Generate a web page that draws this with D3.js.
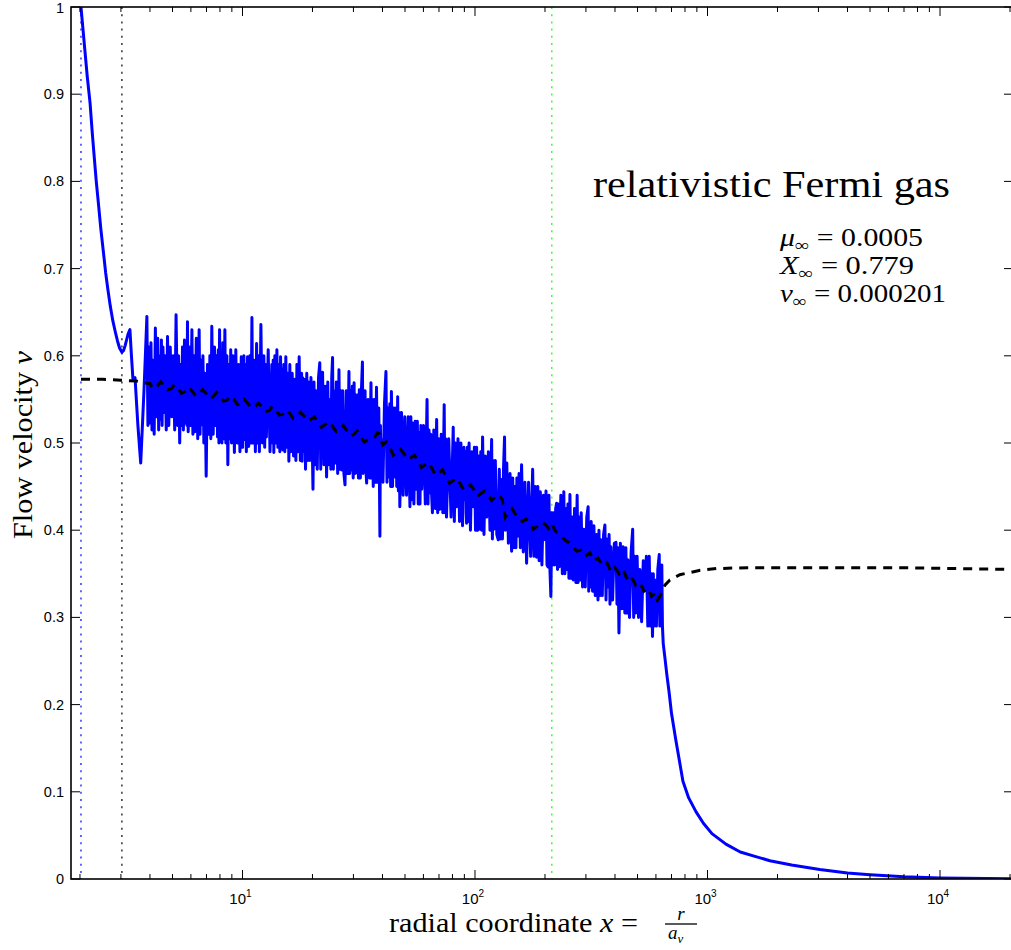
<!DOCTYPE html>
<html>
<head>
<meta charset="utf-8">
<script src="https://cdn.jsdelivr.net/npm/d3@7"></script>
<style>
  body { margin: 0; background: #fff; }
  text { fill: #000; }
</style>
</head>
<body>
<div id="chart"></div>
<script>
// blue solid: flow velocity v at radial coordinate x
const bluePoints = [
  [2.02, 1.0], [2.06, 0.975], [2.10, 0.95], [2.15, 0.92], [2.21, 0.89], [2.26, 0.855],
  [2.30, 0.83], [2.35, 0.80], [2.40, 0.775], [2.46, 0.745], [2.52, 0.72], [2.58, 0.695],
  [2.64, 0.675], [2.70, 0.657], [2.77, 0.64], [2.84, 0.627], [2.90, 0.617], [2.96, 0.609],
  [3.03, 0.604], [3.08, 0.606], [3.13, 0.612], [3.22, 0.625], [3.28, 0.630], [3.33, 0.600],
  [3.38, 0.573], [3.45, 0.575], [3.55, 0.520], [3.65, 0.477], [3.77, 0.560], [3.88, 0.645],
  [3.92, 0.52], [3.96, 0.61], [4.00, 0.523], [4.04, 0.615], [4.08, 0.515], [4.12, 0.595],
  [4.17, 0.51], [4.22, 0.632], [4.27, 0.53], [4.32, 0.62], [4.36, 0.515], [4.41, 0.60],
  [4.44, 0.527], [4.48, 0.618], [4.51, 0.52], [4.55, 0.61], [4.60, 0.535], [4.64, 0.60],
  [4.70, 0.515], [4.76, 0.622], [4.82, 0.52], [4.89, 0.61], [4.96, 0.53], [5.04, 0.60],
  [5.11, 0.515], [5.18, 0.647], [5.26, 0.52], [5.31, 0.60], [5.37, 0.50], [5.42, 0.59],
  [5.47, 0.52], [5.52, 0.61], [5.57, 0.515], [5.63, 0.618], [5.68, 0.523], [5.74, 0.60],
  [5.77, 0.52], [5.80, 0.639], [5.84, 0.513], [5.91, 0.61], [5.98, 0.52], [6.06, 0.630],
  [6.12, 0.51], [6.18, 0.60], [6.24, 0.513], [6.33, 0.62], [6.42, 0.505], [6.51, 0.630],
  [6.57, 0.51], [6.63, 0.595], [6.69, 0.521], [6.76, 0.60], [6.82, 0.50], [6.89, 0.58],
  [6.98, 0.462], [7.07, 0.59], [7.17, 0.51], [7.24, 0.60], [7.31, 0.505], [7.38, 0.634],
  [7.48, 0.51], [7.58, 0.61], [7.68, 0.52], [7.74, 0.60], [7.81, 0.507], [7.87, 0.607],
  [7.92, 0.50], [7.97, 0.63], [8.03, 0.51], [8.10, 0.60], [8.16, 0.50], [8.23, 0.615],
  [8.31, 0.505], [8.40, 0.630], [8.48, 0.50], [8.57, 0.60], [8.65, 0.475], [8.74, 0.59],
  [8.82, 0.505], [8.90, 0.607], [8.97, 0.50], [9.10, 0.60], [9.23, 0.489], [9.36, 0.607],
  [9.49, 0.50], [9.62, 0.59], [9.75, 0.49], [9.88, 0.599], [10.01, 0.495], [10.14, 0.60],
  [10.22, 0.504], [10.30, 0.59], [10.39, 0.49], [10.51, 0.599], [10.63, 0.496], [10.76, 0.60],
  [10.87, 0.50], [10.98, 0.644], [11.09, 0.50], [11.22, 0.595], [11.36, 0.49], [11.5, 0.614],
  [11.6, 0.50], [11.71, 0.60], [11.82, 0.49], [12.0, 0.636], [12.18, 0.50], [12.36, 0.60],
  [12.46, 0.495], [12.57, 0.59], [12.67, 0.507], [12.9, 0.607], [13.13, 0.49], [13.37, 0.59],
  [13.46, 0.50], [13.55, 0.595], [13.64, 0.489], [13.78, 0.60], [13.92, 0.50], [14.06, 0.607],
  [14.2, 0.495], [14.34, 0.59], [14.48, 0.49], [14.58, 0.599], [14.67, 0.50], [14.77, 0.585],
  [14.92, 0.492], [15.06, 0.59], [15.21, 0.49], [15.36, 0.599], [15.52, 0.495], [15.67, 0.58],
  [15.83, 0.479], [15.98, 0.59], [16.14, 0.49], [16.36, 0.58], [16.58, 0.485], [16.8, 0.573],
  [16.97, 0.48], [17.14, 0.59], [17.31, 0.49], [17.53, 0.599], [17.74, 0.48], [17.96, 0.58],
  [18.04, 0.479], [18.12, 0.575], [18.2, 0.49], [18.43, 0.573], [18.67, 0.47], [18.9, 0.58],
  [19.1, 0.48], [19.3, 0.57], [19.49, 0.48], [19.7, 0.575], [19.9, 0.52], [20.1, 0.447],
  [20.3, 0.57], [20.5, 0.475], [20.7, 0.56], [20.97, 0.47], [21.23, 0.575], [21.5, 0.592],
  [21.7, 0.47], [21.9, 0.57], [22.1, 0.581], [22.4, 0.475], [22.7, 0.565], [23.0, 0.461],
  [23.27, 0.57], [23.53, 0.475], [23.8, 0.55], [24.0, 0.47], [24.2, 0.575], [24.4, 0.598],
  [24.6, 0.47], [24.8, 0.56], [25.0, 0.477], [25.33, 0.57], [25.67, 0.465], [26.0, 0.584],
  [26.23, 0.47], [26.47, 0.56], [26.7, 0.469], [27.0, 0.56], [27.3, 0.465], [27.6, 0.452],
  [27.97, 0.56], [28.33, 0.465], [28.7, 0.582], [28.93, 0.465], [29.17, 0.56], [29.4, 0.469],
  [29.67, 0.565], [29.93, 0.46], [30.2, 0.569], [30.47, 0.465], [30.73, 0.555], [31.0, 0.466],
  [31.27, 0.555], [31.53, 0.46], [31.8, 0.561], [32.13, 0.46], [32.47, 0.56], [32.8, 0.593],
  [33.0, 0.465], [33.2, 0.55], [33.4, 0.492], [33.67, 0.56], [33.93, 0.47], [34.2, 0.454],
  [34.7, 0.55], [35.2, 0.46], [35.7, 0.569], [35.97, 0.46], [36.23, 0.55], [36.5, 0.450],
  [36.9, 0.55], [37.3, 0.455], [37.7, 0.564], [38.13, 0.455], [38.57, 0.54], [39.0, 0.393],
  [39.2, 0.52], [39.4, 0.46], [39.6, 0.504], [40.2, 0.455], [40.8, 0.545], [41.4, 0.582],
  [41.83, 0.455], [42.27, 0.54], [42.7, 0.461], [43.03, 0.545], [43.37, 0.45], [43.7, 0.559],
  [44.2, 0.45], [44.7, 0.54], [45.2, 0.461], [45.63, 0.54], [46.07, 0.45], [46.5, 0.553],
  [46.83, 0.445], [47.17, 0.535], [47.5, 0.427], [48.3, 0.535], [49.1, 0.44], [49.9, 0.530],
  [50.77, 0.44], [51.63, 0.53], [52.5, 0.427], [52.97, 0.53], [53.43, 0.435], [53.9, 0.523],
  [54.6, 0.43], [55.3, 0.525], [56.0, 0.447], [56.5, 0.525], [57.0, 0.43], [57.5, 0.512],
  [58.0, 0.43], [58.5, 0.52], [59.0, 0.447], [60.07, 0.52], [61.13, 0.43], [62.2, 0.550],
  [62.8, 0.43], [63.4, 0.515], [64.0, 0.443], [64.5, 0.51], [65.1, 0.44], [65.6, 0.420],
  [66.5, 0.515], [67.5, 0.425], [68.4, 0.527], [69.1, 0.42], [69.9, 0.505], [70.6, 0.424],
  [71.6, 0.51], [72.7, 0.42], [73.7, 0.544], [74.3, 0.42], [74.8, 0.505], [75.4, 0.415],
  [77.1, 0.505], [78.9, 0.415], [80.6, 0.518], [81.5, 0.41], [82.4, 0.50], [83.3, 0.427],
  [84.5, 0.505], [85.8, 0.41], [87.0, 0.500], [88.4, 0.405], [89.7, 0.495], [91.1, 0.435],
  [91.4, 0.49], [91.7, 0.42], [92.0, 0.408], [92.8, 0.495], [93.5, 0.41], [94.3, 0.500],
  [95.6, 0.40], [97.0, 0.49], [98.3, 0.427], [99.4, 0.495], [100.5, 0.40], [101.6, 0.495],
  [102.7, 0.40], [103.9, 0.485], [105, 0.401], [105.9, 0.49], [106.9, 0.40], [107.8, 0.507],
  [109.3, 0.395], [110.8, 0.485], [112.3, 0.415], [114.2, 0.49], [116.0, 0.40], [117.9, 0.504],
  [118.8, 0.39], [119.6, 0.48], [120.5, 0.401], [122.3, 0.48], [124.1, 0.395], [125.9, 0.389],
  [127.2, 0.47], [128.5, 0.39], [129.8, 0.458], [131.2, 0.39], [132.6, 0.47], [134, 0.507],
  [135, 0.40], [136, 0.47], [137, 0.477], [139.2, 0.385], [141.5, 0.465], [143.7, 0.376],
  [145.3, 0.46], [147, 0.38], [148.6, 0.450], [150, 0.38], [151.4, 0.46], [152.8, 0.393],
  [154.7, 0.465], [156.7, 0.38], [158.6, 0.475], [161.3, 0.375], [164, 0.455], [166.7, 0.362],
  [170, 0.455], [173.5, 0.37], [177, 0.470], [179.3, 0.37], [181.7, 0.45], [184, 0.369],
  [186.3, 0.45], [188.7, 0.365], [191, 0.444], [194, 0.36], [197, 0.44], [200, 0.389],
  [202, 0.445], [204, 0.36], [206, 0.358], [208, 0.44], [210, 0.355], [212, 0.324],
  [214, 0.42], [216, 0.36], [218, 0.420], [220.1, 0.36], [222.3, 0.425], [224.4, 0.431],
  [226.5, 0.355], [228.5, 0.43], [230.6, 0.358], [234, 0.44], [237.5, 0.35], [241, 0.444],
  [243.5, 0.35], [246, 0.425], [248.5, 0.355], [251, 0.43], [253.5, 0.345], [256, 0.441],
  [258.8, 0.345], [261.7, 0.415], [264.5, 0.343], [268, 0.425], [271.5, 0.34], [275, 0.440],
  [277.5, 0.34], [280, 0.415], [282.5, 0.343], [286.3, 0.42], [290.2, 0.335], [294, 0.401],
  [298, 0.335], [302.4, 0.415], [306.6, 0.427], [308.4, 0.33], [310.2, 0.405], [312, 0.335],
  [316, 0.41], [320.4, 0.33], [324.6, 0.405], [329, 0.325], [333.5, 0.395], [338, 0.320],
  [341.3, 0.40], [344.7, 0.325], [348, 0.389], [352.7, 0.325], [357.3, 0.395], [362, 0.406],
  [366, 0.32], [370, 0.39], [374, 0.335], [377.3, 0.395], [380.7, 0.315], [384, 0.381],
  [390.7, 0.32], [397.3, 0.385], [404, 0.386], [408, 0.315], [412, 0.38], [416, 0.282],
  [422, 0.385], [427.8, 0.31], [433.5, 0.381], [436, 0.31], [438.5, 0.375], [441, 0.305],
  [445.5, 0.38], [450, 0.305], [454.5, 0.366], [461.9, 0.30], [469.3, 0.375], [476.6, 0.401],
  [481.4, 0.30], [486.2, 0.37], [491, 0.305], [498, 0.37], [505, 0.30], [512, 0.355],
  [520.7, 0.295], [529.3, 0.365], [538, 0.332], [545.8, 0.37], [553.7, 0.29], [561.5, 0.370],
  [567.7, 0.29], [573.8, 0.35], [580, 0.278], [584.7, 0.35], [589.3, 0.29], [594, 0.343],
  [602.7, 0.29], [611.3, 0.355], [620, 0.372], [623.7, 0.29], [627.3, 0.355], [631, 0.320],
  [636, 0.36], [640, 0.29], [645, 0.27],
  [655, 0.255], [668, 0.235], [683, 0.215], [700, 0.19], [730, 0.16], [760, 0.133],
  [784, 0.112], [830, 0.093], [893, 0.077], [960, 0.064], [1045, 0.052], [1200, 0.040],
  [1383, 0.031], [1600, 0.026], [1854, 0.021], [2300, 0.016], [3040, 0.011], [4000, 0.007],
  [5000, 0.005], [7000, 0.0025], [10000, 0.0012], [20600, 0.0003]
];

// black dashed reference profile
const blackPoints = [
  [2.02, 0.573], [2.5, 0.573], [3.0, 0.572], [3.5, 0.571],
  [4.0, 0.568], [4.14, 0.562], [4.29, 0.565], [4.45, 0.570], [4.61, 0.566], [4.77, 0.561],
  [4.93, 0.562], [5.1, 0.567], [5.28, 0.563], [5.46, 0.557], [5.65, 0.559], [5.85, 0.564],
  [6.06, 0.560], [6.28, 0.554], [6.5, 0.556], [6.73, 0.561], [6.96, 0.557], [7.2, 0.551],
  [7.46, 0.553], [7.73, 0.558], [8.0, 0.554], [8.29, 0.548], [8.58, 0.549], [8.88, 0.554],
  [9.19, 0.550], [9.52, 0.544], [9.85, 0.545], [10.17, 0.550], [10.5, 0.546], [10.9, 0.540],
  [11.3, 0.541], [11.7, 0.546], [12.1, 0.542], [12.55, 0.536], [13.0, 0.537], [13.45, 0.542],
  [13.9, 0.538], [14.4, 0.532], [14.9, 0.533], [15.45, 0.538], [16.0, 0.534], [16.55, 0.528],
  [17.1, 0.530], [17.75, 0.535], [18.4, 0.531], [19.05, 0.525], [19.7, 0.527], [20.4, 0.530],
  [21.1, 0.524], [21.85, 0.518], [22.6, 0.521], [23.5, 0.525], [24.4, 0.519], [25.3, 0.513],
  [26.2, 0.516], [27.15, 0.520], [28.1, 0.514], [29.1, 0.508], [30.1, 0.510], [31.15, 0.514],
  [32.2, 0.507], [33.4, 0.501], [34.6, 0.504], [35.85, 0.506], [37.1, 0.507], [38.0, 0.512],
  [39.0, 0.510], [39.5, 0.503], [40.1, 0.498], [41.5, 0.501], [43.0, 0.495], [44.5, 0.486],
  [46.1, 0.490], [47.7, 0.493], [49.4, 0.488], [51.2, 0.481], [53.0, 0.483], [54.9, 0.486],
  [56.8, 0.480], [58.8, 0.472], [60.9, 0.475], [63.1, 0.478], [65.3, 0.471], [67.6, 0.463],
  [70.0, 0.466], [72.5, 0.469], [75.0, 0.462], [77.7, 0.454], [80.4, 0.457], [83.3, 0.460],
  [86.2, 0.454], [89.3, 0.446], [92.4, 0.449], [95.7, 0.452], [99.1, 0.446], [102.5, 0.439],
  [106, 0.442], [110, 0.445], [114, 0.440], [118, 0.434], [122, 0.438], [126.5, 0.441],
  [131, 0.435], [133, 0.425], [135, 0.415], [139.5, 0.421], [144, 0.425], [148.5, 0.419],
  [153, 0.416], [156.5, 0.411], [160, 0.410], [166, 0.413], [172, 0.407], [178, 0.401],
  [184, 0.404], [192, 0.409], [200, 0.407], [207, 0.402], [214, 0.408], [219.5, 0.401],
  [225, 0.397], [234, 0.394], [243, 0.389], [253, 0.386], [263, 0.381], [274, 0.376],
  [285, 0.377], [298, 0.370], [312, 0.374], [325, 0.365], [338, 0.368], [353, 0.360],
  [369, 0.363], [384, 0.352], [400, 0.357], [417, 0.350], [434, 0.355], [452, 0.343],
  [470, 0.347], [491, 0.337], [512, 0.340], [533, 0.330], [555, 0.333], [574, 0.324],
  [594, 0.328], [609, 0.320], [624, 0.324],
  [656, 0.337], [689, 0.343], [760, 0.349], [930, 0.354], [1095, 0.356], [1478, 0.357],
  [2496, 0.357], [6725, 0.357], [20600, 0.355]
];

// vertical dotted markers
const markerX = [2.02, 3.03, 214];
const markerColors = ["#0000ff", "#000000", "#00ff00"];

const yTicks = [0, 0.1, 0.2, 0.3, 0.4, 0.5, 0.6, 0.7, 0.8, 0.9, 1];
const xMajor = [10, 100, 1000, 10000];
const xDomain = [1.83, 20600];

const W = 1011, H = 950;
// right edge of the axes box sits just past the picture edge
const box = { left: 71, right: 1013, top: 7, bottom: 879 };
const serif = "'Liberation Serif', 'Times New Roman', serif";
const sans = "'Liberation Sans', Arial, Helvetica, sans-serif";

const svg = d3.select("#chart").append("svg")
  .attr("width", W).attr("height", H)
  .style("display", "block");

const x = d3.scaleLog().domain(xDomain).range([box.left, box.right]);
const y = d3.scaleLinear().domain([0, 1]).range([box.bottom, box.top]);

svg.append("clipPath").attr("id", "clip")
  .append("rect")
  .attr("x", box.left).attr("y", box.top)
  .attr("width", box.right - box.left).attr("height", box.bottom - box.top);

const plotG = svg.append("g").attr("clip-path", "url(#clip)");

// dotted vertical markers
plotG.selectAll("line.marker")
  .data(markerX)
  .join("line")
  .attr("class", "marker")
  .attr("x1", (d) => x(d)).attr("x2", (d) => x(d))
  .attr("y1", box.top).attr("y2", box.bottom)
  .attr("stroke", (d, i) => markerColors[i])
  .attr("stroke-width", 1.2)
  .attr("stroke-dasharray", "2,5.2");

const line = d3.line()
  .x((d) => x(d[0]))
  .y((d) => y(d[1]));

plotG.append("path")
  .datum(bluePoints)
  .attr("d", line)
  .attr("fill", "none")
  .attr("stroke", "#0000ff")
  .attr("stroke-width", 3)
  .attr("stroke-linejoin", "round");

plotG.append("path")
  .datum(blackPoints)
  .attr("d", line)
  .attr("fill", "none")
  .attr("stroke", "#000")
  .attr("stroke-width", 3)
  .attr("stroke-dasharray", "9,7");

// axes box
const axG = svg.append("g");
axG.append("rect")
  .attr("x", box.left).attr("y", box.top)
  .attr("width", box.right - box.left).attr("height", box.bottom - box.top)
  .attr("fill", "none").attr("stroke", "#000").attr("stroke-width", 1.6);

// x ticks (inward, top and bottom)
const xTicks = x.ticks().filter((d) => d >= xDomain[0] && d <= xDomain[1]);
const isMajor = (d) => xMajor.includes(d);
xTicks.forEach(function (d) {
  const len = isMajor(d) ? 9 : 5;
  axG.append("line")
    .attr("x1", x(d)).attr("x2", x(d))
    .attr("y1", box.bottom).attr("y2", box.bottom - len)
    .attr("stroke", "#000").attr("stroke-width", 1);
  axG.append("line")
    .attr("x1", x(d)).attr("x2", x(d))
    .attr("y1", box.top).attr("y2", box.top + len)
    .attr("stroke", "#000").attr("stroke-width", 1);
});

// y ticks (inward, left and right)
yTicks.forEach(function (d) {
  axG.append("line")
    .attr("x1", box.left).attr("x2", box.left + 9)
    .attr("y1", y(d)).attr("y2", y(d))
    .attr("stroke", "#000").attr("stroke-width", 1);
  axG.append("line")
    .attr("x1", box.right).attr("x2", box.right - 9)
    .attr("y1", y(d)).attr("y2", y(d))
    .attr("stroke", "#000").attr("stroke-width", 1);
});

// y tick labels
svg.append("g")
  .selectAll("text")
  .data(yTicks)
  .join("text")
  .attr("x", 64)
  .attr("y", (d) => Math.max(y(d) + 5, 13))
  .attr("text-anchor", "end")
  .attr("font-family", sans)
  .attr("font-size", 14.5)
  .text((d) => String(d));

// x tick labels 10^n
const xl = svg.append("g")
  .selectAll("text")
  .data(xMajor)
  .join("text")
  .attr("x", (d) => x(d) - 2)
  .attr("y", 904)
  .attr("text-anchor", "middle")
  .attr("font-family", sans)
  .attr("font-size", 15);
xl.append("tspan").text("10");
xl.append("tspan")
  .attr("dy", -7)
  .attr("font-size", 10)
  .text((d) => Math.round(Math.log10(d)));

// axis labels
svg.append("text")
  .attr("x", 389).attr("y", 932)
  .attr("font-family", serif)
  .attr("font-size", 27)
  .attr("textLength", 249)
  .attr("lengthAdjust", "spacingAndGlyphs")
  .html("radial coordinate <tspan font-style='italic'>x</tspan> =");

svg.append("text")
  .attr("x", 681).attr("y", 920)
  .attr("text-anchor", "middle")
  .attr("font-family", serif).attr("font-style", "italic")
  .attr("font-size", 19)
  .text("r");
svg.append("line")
  .attr("x1", 665).attr("x2", 697)
  .attr("y1", 924).attr("y2", 924)
  .attr("stroke", "#000").attr("stroke-width", 1.3);
const den = svg.append("text")
  .attr("x", 668).attr("y", 939)
  .attr("font-family", serif).attr("font-style", "italic")
  .attr("font-size", 19);
den.append("tspan").text("a");
den.append("tspan").attr("dy", 4).attr("font-size", 13).text("ν");

svg.append("text")
  .attr("transform", "translate(32,445) rotate(-90)")
  .attr("text-anchor", "middle")
  .attr("font-family", serif)
  .attr("font-size", 27)
  .attr("textLength", 188)
  .attr("lengthAdjust", "spacingAndGlyphs")
  .html("Flow velocity <tspan font-style='italic'>v</tspan>");

// annotations
svg.append("text")
  .attr("x", 593).attr("y", 197)
  .attr("font-family", serif)
  .attr("font-size", 38)
  .attr("textLength", 357)
  .attr("lengthAdjust", "spacingAndGlyphs")
  .text("relativistic Fermi gas");

const paramSym = ["μ", "X", "v"];
const paramVal = ["0.0005", "0.779", "0.000201"];
const paramWidth = [143, 134, 166];
const paramY = [246, 274, 302];
paramSym.forEach(function (s, i) {
  const t = svg.append("text")
    .attr("x", 780).attr("y", paramY[i])
    .attr("font-family", serif)
    .attr("font-size", 25)
    .attr("textLength", paramWidth[i])
    .attr("lengthAdjust", "spacingAndGlyphs");
  t.append("tspan").attr("font-style", "italic").text(s);
  t.append("tspan").attr("dy", 5).attr("font-size", 17).text("∞");
  t.append("tspan").attr("dy", -5).text(" = " + paramVal[i]);
});
</script>
</body>
</html>
